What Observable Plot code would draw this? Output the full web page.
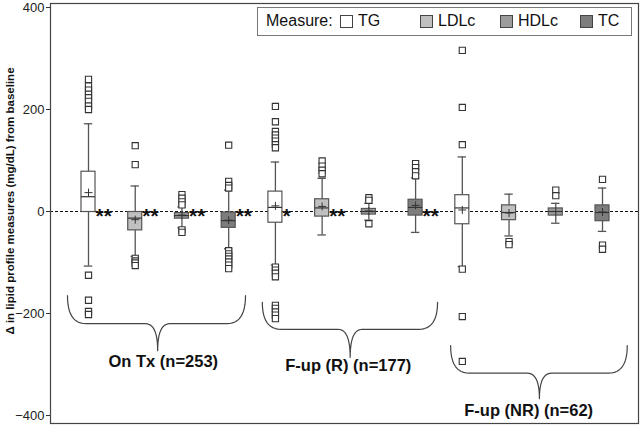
<!DOCTYPE html>
<html><head><meta charset="utf-8">
<script src="https://cdn.jsdelivr.net/npm/d3@7"></script>
<script src="https://cdn.jsdelivr.net/npm/@observablehq/plot@0.6"></script>
<style>
body{margin:0;background:#fff;font-family:"Liberation Sans",Arial,sans-serif;}
#wrap{position:relative;width:644px;height:428px;}
#legend{position:absolute;left:257px;top:7px;width:375px;height:29px;border:1.5px solid #777;box-sizing:border-box;background:#fff;font-size:16px;color:#111;}
#legend .ttl{position:absolute;left:8px;top:4px;}
#legend .item{position:absolute;top:4px;display:flex;align-items:center;}
#legend .sw{width:13px;height:13px;border:1px solid #444;box-sizing:border-box;margin-right:5px;margin-top:1px;}
#ytitle{position:absolute;left:10px;top:201px;transform:translate(-50%,-50%) rotate(-90deg);white-space:nowrap;font-size:11.5px;font-weight:bold;color:#111;}
</style></head><body>
<div id="wrap"></div>
<script>
// ---- data ----
const groups = ["On Tx (n=253)", "F-up (R) (n=177)", "F-up (NR) (n=62)"];
const measures = ["TG", "LDLc", "HDLc", "TC"];
const fills = ["#ffffff", "#c0c0c0", "#9c9c9c", "#7d7d7d"];
// 12 boxes: group-major, measure-minor
const q1     = [ -1, -37, -14, -32,  -22, -10,  -6,  -8,  -25, -17,  -8, -19];
const median = [ 29, -13,  -8, -18,    8,   7,   0,   8,    7,  -2,   0,  -2];
const q3     = [ 78,  -1,  -3,  -2,   39,  24,   5,  23,   32,  12,   6,  12];
const mean   = [ 37, -16,  -7, -17,   11,  10,   1,  12,    3,  -3,   0,  -1];
const whiskLo= [-107, -88, -32, -73, -105, -46, -17, -41, -108, -48, -23, -39];
const whiskHi= [172,  50,   9,  42,   97,  65,  16,  66,  107,  34,  16,  46];
const outliers = [
  [259, 246, 238, 230, 223, 216, 207, 200, -125, -174, -196, -202],
  [129, 92, -92, -97, -101, -106],
  [33, 26, 19, 13, -36, -41],
  [130, 59, 51, 46, -77, -83, -88, -93, -99, -105, -112],
  [206, 176, 157, 150, 144, 138, 131, 125, -109, -115, -121, -128, -184, -190, -197, -203, -210],
  [99, 89, 81, 74],
  [27, 22, -24],
  [94, 86, 78, 70],
  [316, 204, 131, -113, -206, -294],
  [-59, -65],
  [42, 31],
  [63, -66, -74]
];
const significance = ["**", "**", "**", "**", "*", "**", "", "**", "", "", "", ""];
const yTicks = [-400, -200, 0, 200, 400];
const yTitle = "Δ in lipid profile measures (mg/dL) from baseline";

// ---- brace annotation geometry (x in box-slot units, y in mg/dL) ----
const braceX0 = [0.55, 4.72, 8.75];
const braceX1 = [4.36, 8.47, 12.53];
const braceXc = [2.48, 6.60, 10.65];
const braceTop = [-165, -178, -263];
const braceMid = [-220, -231, -317];
const bracePt  = [-273, -286, -367];
const labelX = [2.6, 6.56, 10.42];
const labelY = [-295, -302, -390];

// ---- build tables ----
const rows = q1.map((_, i) => ({
  pos: i + 1, group: groups[Math.floor(i / 4)], measure: measures[i % 4],
  q1: q1[i], med: median[i], q3: q3[i], mean: mean[i], lo: whiskLo[i], hi: whiskHi[i], sig: significance[i]
}));
const outRows = outliers.flatMap((arr, i) => arr.map(v => ({pos: i + 1, v})));

function quad(p0, c, p1, n = 12) {
  const pts = [];
  for (let k = 0; k <= n; k++) {
    const t = k / n, u = 1 - t;
    pts.push([u*u*p0[0] + 2*u*t*c[0] + t*t*p1[0], u*u*p0[1] + 2*u*t*c[1] + t*t*p1[1]]);
  }
  return pts;
}
const braceRows = [];
groups.forEach((g, i) => {
  const x0 = braceX0[i], x1 = braceX1[i], xc = braceXc[i];
  const yt = braceTop[i], ym = braceMid[i], yp = bracePt[i];
  const a = 0.4, b = 0.26;
  const pts = [
    ...quad([x0, yt], [x0, ym], [x0 + a, ym]),
    ...quad([xc - b, ym], [xc, ym], [xc, yp]),
    ...quad([xc, yp], [xc, ym], [xc + b, ym]),
    ...quad([x1 - a, ym], [x1, ym], [x1, yt])
  ];
  pts.forEach(([x, y]) => braceRows.push({g, x, y}));
});
const labelRows = groups.map((g, i) => ({label: g, x: labelX[i], y: labelY[i]}));

const hw = 0.15, cw = 0.09;
const chart = Plot.plot({
  width: 644, height: 428,
  marginLeft: 50, marginRight: 6, marginTop: 3, marginBottom: 5,
  style: {fontFamily: "'Liberation Sans', Arial, sans-serif", fontSize: "13px", color: "#222", background: "#fff"},
  x: {domain: [1, 12], range: [88, 602], axis: null},
  y: {domain: [-400, 400], range: [415, 7], axis: null},
  color: {domain: measures, range: fills},
  marks: [
    Plot.ruleY([0], {y: d => d, stroke: "#111", strokeWidth: 1, strokeDasharray: "3,2"}),
    Plot.ruleX(rows, {x: "pos", y1: "lo", y2: "hi", stroke: "#555", strokeWidth: 1.3}),
    Plot.ruleY(rows, {y: "lo", x1: d => d.pos - cw, x2: d => d.pos + cw, stroke: "#555", strokeWidth: 1.3}),
    Plot.ruleY(rows, {y: "hi", x1: d => d.pos - cw, x2: d => d.pos + cw, stroke: "#555", strokeWidth: 1.3}),
    Plot.rect(rows, {x1: d => d.pos - hw, x2: d => d.pos + hw, y1: "q1", y2: "q3", fill: "measure", stroke: "#555", strokeWidth: 1.2}),
    Plot.ruleY(rows, {y: "med", x1: d => d.pos - hw, x2: d => d.pos + hw, stroke: "#333", strokeWidth: 1.2}),
    Plot.dot(rows, {x: "pos", y: "mean", symbol: "plus", r: 2.7, stroke: "#333", strokeWidth: 1}),
    Plot.dot(outRows, {x: "pos", y: "v", symbol: "square", r: 3.5, fill: "#fff", stroke: "#333", strokeWidth: 1.1}),
    Plot.text(rows.filter(d => d.sig), {x: "pos", y: d => 0, text: "sig", dx: 7, dy: 4.5, textAnchor: "start", fontSize: 21, fontWeight: "bold", fill: "#111"}),
    Plot.line(braceRows, {x: "x", y: "y", z: "g", stroke: "#444", strokeWidth: 1.2}),
    Plot.text(labelRows, {x: "x", y: "y", text: "label", fontSize: 16.5, fontWeight: "bold", fill: "#111"}),
    Plot.axisY({ticks: yTicks, tickSize: 4, tickPadding: 2, fontSize: 13, label: null, stroke: "#333"}),
    Plot.frame({stroke: "#444", strokeWidth: 1.2})
  ]
});
const wrap = document.getElementById("wrap");
wrap.appendChild(chart);

// y-axis title
const yt = document.createElement("div");
yt.id = "ytitle"; yt.textContent = yTitle;
wrap.appendChild(yt);

// legend (HTML overlay inside plot area, top right)
const legend = document.createElement("div");
legend.id = "legend";
const ttl = document.createElement("span");
ttl.className = "ttl"; ttl.textContent = "Measure:";
legend.appendChild(ttl);
measures.forEach((m, i) => {
  const it = document.createElement("div");
  it.className = "item";
  it.style.left = (82 + i * 80) + "px";
  const sw = document.createElement("span");
  sw.className = "sw"; sw.style.background = fills[i];
  const tx = document.createElement("span");
  tx.textContent = m;
  it.appendChild(sw); it.appendChild(tx);
  legend.appendChild(it);
});
wrap.appendChild(legend);
</script>
</body></html>
